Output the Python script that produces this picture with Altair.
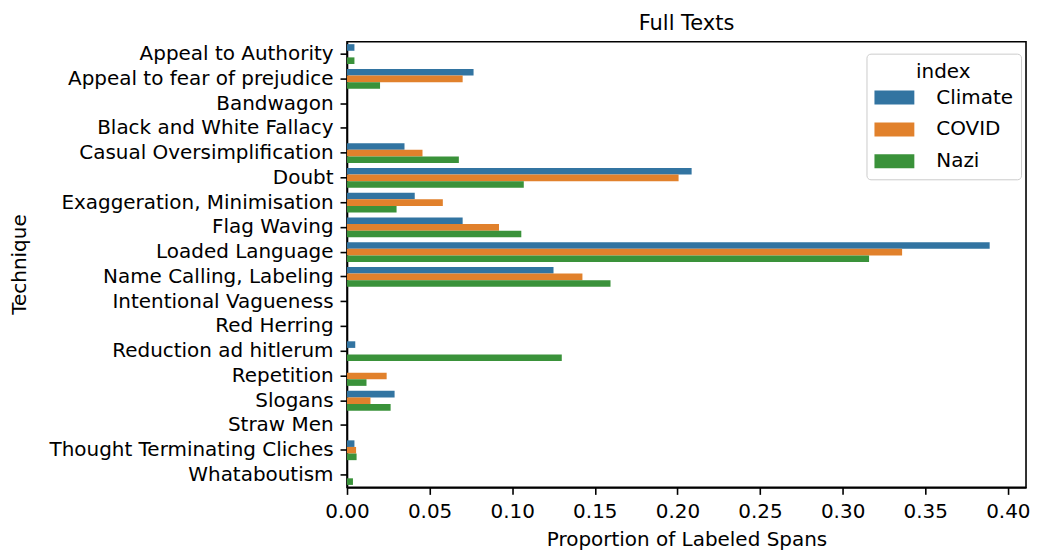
import altair as alt
import pandas as pd

techniques = [
    "Appeal to Authority", "Appeal to fear of prejudice", "Bandwagon",
    "Black and White Fallacy", "Casual Oversimplification", "Doubt",
    "Exaggeration, Minimisation", "Flag Waving", "Loaded Language",
    "Name Calling, Labeling", "Intentional Vagueness", "Red Herring",
    "Reduction ad hitlerum", "Repetition", "Slogans", "Straw Men",
    "Thought Terminating Cliches", "Whataboutism",
]
series = ["Climate", "COVID", "Nazi"]
climate = [0.0045, 0.0766, 0.0, 0.0, 0.0348, 0.2086, 0.041, 0.070, 0.389,
           0.125, 0.0, 0.0, 0.005, 0.0, 0.0288, 0.0, 0.0045, 0.0]
covid = [0.0, 0.070, 0.0, 0.0, 0.0457, 0.2007, 0.058, 0.092, 0.336,
         0.1425, 0.0, 0.0, 0.0, 0.024, 0.0142, 0.0, 0.0055, 0.0]
nazi = [0.0045, 0.020, 0.0, 0.0, 0.0677, 0.107, 0.030, 0.1055, 0.316,
        0.1595, 0.0, 0.0, 0.130, 0.0118, 0.0264, 0.0, 0.0058, 0.0036]
colors = ["#3274a1", "#e1812c", "#3a923a"]
x_ticks = [0.0, 0.05, 0.10, 0.15, 0.20, 0.25, 0.30, 0.35, 0.40]

rows = []
for name, vals in zip(series, [climate, covid, nazi]):
    for t, v in zip(techniques, vals):
        rows.append({"Technique": t, "index": name, "value": v})
df = pd.DataFrame(rows)

FONT = "DejaVu Sans"

chart = alt.Chart(df).mark_bar().encode(
    y=alt.Y("Technique:N", sort=techniques, title="Technique",
            scale=alt.Scale(paddingInner=0.2, paddingOuter=0.1),
            axis=alt.Axis(labelLimit=500, labelFontSize=20, titleFontSize=20,
                          titleFontWeight="normal", tickSize=7, labelPadding=7,
                          titleX=-318, titleY=223, titleAngle=270,
                          titleBaseline="bottom", titleAlign="center",
                          tickWidth=1.6, domainWidth=1.6,
                          tickColor="black", domainColor="black",
                          labelColor="black", titleColor="black",
                          labelFont=FONT, titleFont=FONT, grid=False)),
    yOffset=alt.YOffset("index:N", sort=series,
                        scale=alt.Scale(paddingInner=0, paddingOuter=0)),
    x=alt.X("value:Q", title="Proportion of Labeled Spans",
            scale=alt.Scale(domain=[0, 0.411], nice=False),
            axis=alt.Axis(values=x_ticks, format=".2f", labelFontSize=20,
                          titleFontSize=20, titleFontWeight="normal",
                          tickSize=7, labelPadding=7, titlePadding=8,
                          tickWidth=1.6, domainWidth=1.6, tickColor="black",
                          domainColor="black", labelColor="black",
                          titleColor="black", labelFont=FONT, titleFont=FONT,
                          grid=False, labelFlush=False)),
    color=alt.Color("index:N", sort=series,
                    scale=alt.Scale(domain=series, range=colors),
                    legend=alt.Legend(
                        title="index", orient="none", legendX=521, legendY=12,
                        fillColor="white", strokeColor="#cccccc",
                        cornerRadius=4, padding=8, titleFontSize=20,
                        titleFontWeight="normal", titleFont=FONT,
                        titleColor="black", titleAnchor="middle",
                        titlePadding=6,
                        labelFontSize=20, labelFont=FONT, labelColor="black",
                        symbolType="M-1,-0.7H3V0.7H-1Z", symbolSize=400,
                        symbolStrokeWidth=0, symbolOpacity=1,
                        rowPadding=12, labelOffset=42)),
).properties(
    width=681, height=447,
    title=alt.TitleParams("Full Texts", fontSize=21, font=FONT,
                          fontWeight="normal", color="black", offset=8,
                          anchor="middle"),
    padding={"left": 2, "top": 4, "right": 0, "bottom": 0},
).configure_view(stroke="black", strokeWidth=1.6)

chart.save("out.html", embed_options={"renderer": "svg", "actions": False})
